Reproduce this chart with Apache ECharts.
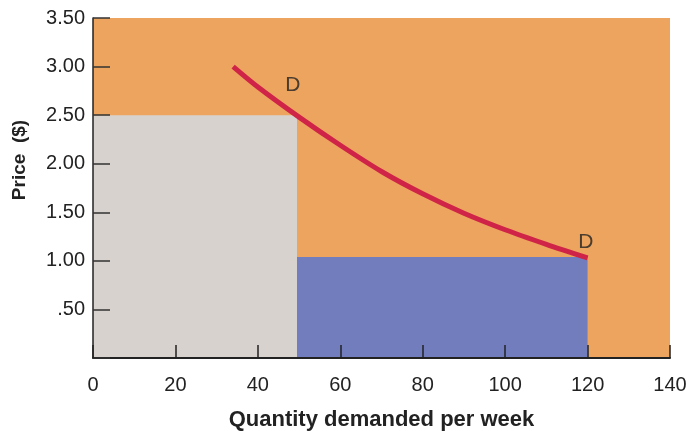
<!DOCTYPE html>
<html>
<head>
<meta charset="utf-8">
<script src="https://cdn.jsdelivr.net/npm/echarts@6/dist/echarts.min.js"></script>
<style>
  html, body { margin: 0; padding: 0; background: #fff; }
  #chart { width: 687px; height: 431px; }
</style>
</head>
<body>
<div id="chart"></div>
<script>
// Demand curve D: quantity demanded per week vs. price ($)
const demandQty   = [34, 40, 50, 60, 70, 80, 90, 100, 110, 120];
const demandPrice = [3.0, 2.79, 2.48, 2.19, 1.92, 1.69, 1.49, 1.32, 1.17, 1.03];

// Shaded revenue rectangles: [qtyFrom, qtyTo, priceTop]
const rectQtyFrom  = [0, 49.5];
const rectQtyTo    = [49.5, 120];
const rectPriceTop = [2.5, 1.04];
const rectColors   = ['#d8d2cf', '#717dbd'];

// Curve labels
const labelQty   = [48.5, 119.6];
const labelPrice = [2.81, 1.19];
const labelText  = ['D', 'D'];

// Axis tick labels
const yTickLabels = { 0.5: '.50', 1: '1.00', 1.5: '1.50', 2: '2.00', 2.5: '2.50', 3: '3.00', 3.5: '3.50' };

const FONT = '"Liberation Sans", Arial, Helvetica, sans-serif';

const chart = echarts.init(document.getElementById('chart'));

const rectData = rectQtyFrom.map((q, i) => [q, rectQtyTo[i], rectPriceTop[i], i]);

chart.setOption({
  animation: false,
  grid: {
    left: 93, right: 17, top: 18, bottom: 73,
    containLabel: false, outerBoundsMode: 'none',
    show: true, backgroundColor: '#eca45e', borderWidth: 0
  },
  xAxis: {
    type: 'value', min: 0, max: 140, interval: 20, z: 5,
    name: 'Quantity demanded per week',
    nameLocation: 'middle', nameGap: 51,
    nameTextStyle: { fontFamily: FONT, fontSize: 22, fontWeight: 'bold', color: '#222' },
    axisLine: { show: true, lineStyle: { color: '#222', width: 2 } },
    axisTick: { show: true, inside: true, length: 13, lineStyle: { color: '#222', width: 1.5 } },
    axisLabel: { fontFamily: FONT, fontSize: 20, color: '#222', margin: 17 },
    splitLine: { show: false }
  },
  yAxis: {
    type: 'value', min: 0, max: 3.5, interval: 0.5, z: 5,
    name: 'Price  ($)',
    nameLocation: 'middle', nameGap: 64, nameRotate: 90,
    nameTextStyle: {
      fontFamily: FONT, fontSize: 19, fontWeight: 'bold', color: '#222',
      padding: [0, 0, 0, 56]
    },
    axisLine: { show: true, lineStyle: { color: '#222', width: 1.5 } },
    axisTick: { show: true, inside: true, length: 17, lineStyle: { color: '#333', width: 1.5 } },
    axisLabel: {
      fontFamily: FONT, fontSize: 20, color: '#222', margin: 8,
      formatter: v => yTickLabels[v] || ''
    },
    splitLine: { show: false }
  },
  series: [
    {
      type: 'custom',
      data: rectData,
      z: 1,
      renderItem: (params, api) => {
        const p0 = api.coord([api.value(0), 0]);
        const p1 = api.coord([api.value(1), api.value(2)]);
        return {
          type: 'rect',
          shape: { x: p0[0], y: p1[1], width: p1[0] - p0[0], height: p0[1] - p1[1] },
          style: { fill: rectColors[api.value(3)] }
        };
      },
      encode: { x: [0, 1], y: 2 }
    },
    {
      type: 'line',
      data: demandQty.map((q, i) => [q, demandPrice[i]]),
      smooth: 0.3,
      showSymbol: false,
      z: 3,
      lineStyle: { color: '#cf2348', width: 5, cap: 'butt' }
    },
    {
      type: 'scatter',
      data: labelQty.map((q, i) => [q, labelPrice[i], labelText[i]]),
      symbolSize: 0,
      z: 4,
      label: {
        show: true, position: 'inside',
        formatter: p => p.value[2],
        fontFamily: FONT, fontSize: 21, color: '#222'
      }
    }
  ]
});
</script>
</body>
</html>
